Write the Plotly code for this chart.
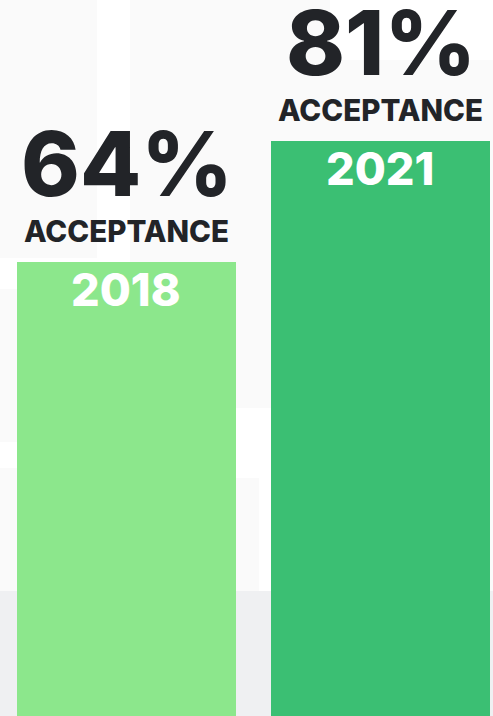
import plotly.graph_objects as go

years = ["2018", "2021"]
acceptance = [64, 81]
bar_colors = ["#8CE78C", "#3BBF73"]
label_word = "ACCEPTANCE"

FONT = "Inter"
DARK = "#222428"

fig = go.Figure()
fig.add_trace(go.Bar(
    x=[0, 1], y=acceptance, width=0.862,
    marker=dict(color=bar_colors, line=dict(width=0)),
    hoverinfo="skip", showlegend=False,
))

annotations = []
for i, (yr, v) in enumerate(zip(years, acceptance)):
    annotations.append(dict(x=i, y=v, xref="x", yref="y", text=f"{v}%",
                            showarrow=False, yanchor="bottom", yshift=43, xshift=1,
                            font=dict(family=FONT, size=89, color=DARK, weight=800)))
    annotations.append(dict(x=i, y=v, xref="x", yref="y", text=label_word,
                            showarrow=False, yanchor="bottom", yshift=11,
                            font=dict(family=FONT, size=29.5, color=DARK, weight=800)))
    annotations.append(dict(x=i, y=v, xref="x", yref="y", text=yr,
                            showarrow=False, yanchor="top", yshift=2,
                            font=dict(family=FONT, size=45, color="white", weight=800)))

W, H = 493, 716
def px_rect(x0, y0, x1, y1, color):
    return dict(type="rect", xref="paper", yref="paper", layer="below",
                x0=x0 / W, x1=x1 / W, y0=1 - y1 / H, y1=1 - y0 / H,
                fillcolor=color, line=dict(width=0))

faint = "#FAFAFA"
shapes = [
    px_rect(0, 0, 97, 258, faint),
    px_rect(130, 0, 330, 408, faint),
    px_rect(330, 60, 493, 591, faint),
    px_rect(0, 289, 17, 442, faint),
    px_rect(0, 468, 17, 591, faint),
    px_rect(236, 478, 259, 591, faint),
    px_rect(0, 591, 493, 716, "#EFF0F2"),
]

fig.update_layout(
    width=W, height=H,
    margin=dict(l=0, r=0, t=0, b=0),
    paper_bgcolor="white", plot_bgcolor="rgba(0,0,0,0)",
    xaxis=dict(range=[-0.498, 1.443], visible=False, fixedrange=True),
    yaxis=dict(range=[0, 100.85], visible=False, fixedrange=True),
    annotations=annotations, shapes=shapes,
    bargap=0, showlegend=False,
)

fig.write_html("out.html", config={"displayModeBar": False})
